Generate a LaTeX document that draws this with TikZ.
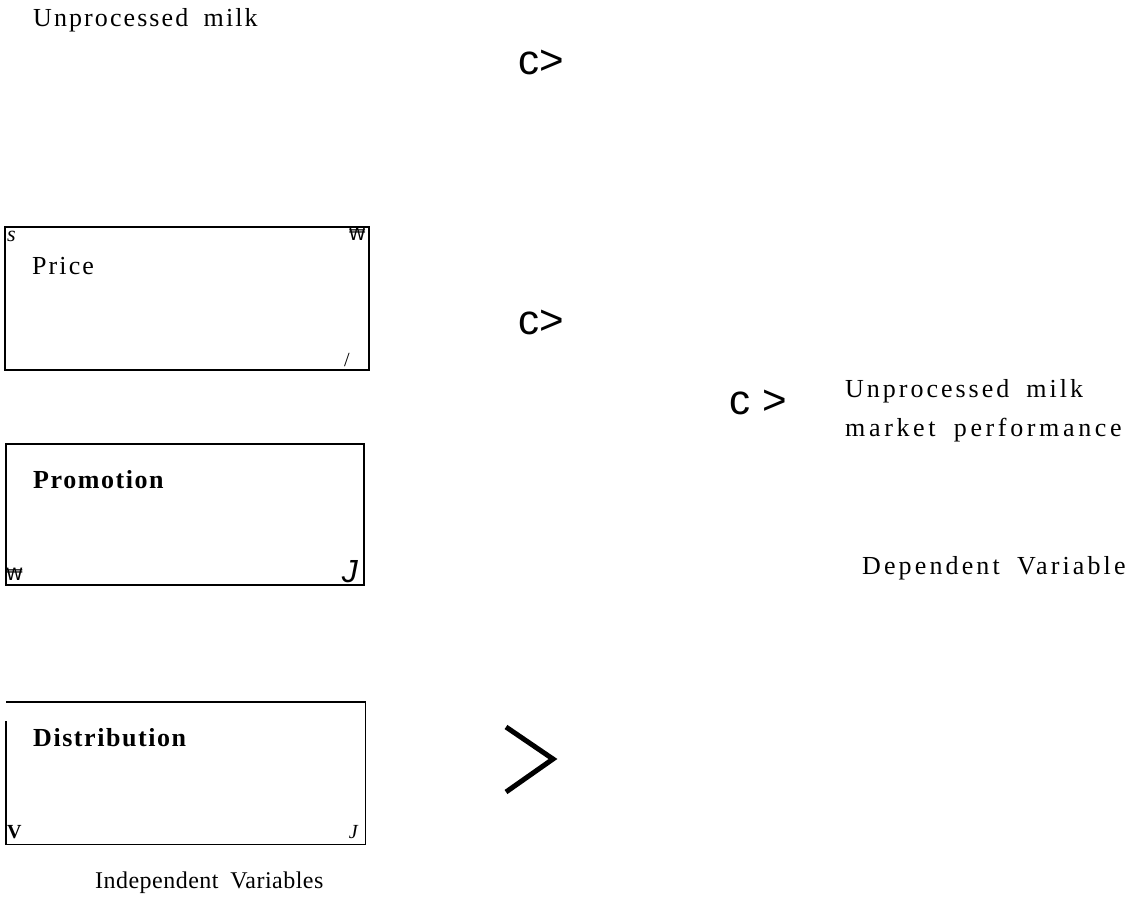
\documentclass[tikz,border=0pt]{standalone}
\usepackage{fontspec}
\setmainfont{Liberation Serif}
\newfontfamily\spacedserif[LetterSpace=8,WordSpace=1.8]{Liberation Serif}
\newfontfamily\symsans{Liberation Sans}
\newfontfamily\wonfont{DejaVu Sans}

\begin{document}
\begin{tikzpicture}[x=1pt, y=-1pt]
    \useasboundingbox (0,0) rectangle (1129,904);

    \tikzset{
        vartext/.style = {anchor=base west, inner sep=0pt, font=\fontsize{26}{30}\selectfont\spacedserif\addfontfeature{LetterSpace=#1}},
        vartext/.default = 8,
        boldtext/.style = {vartext=6, font=\fontsize{26}{30}\selectfont\spacedserif\addfontfeature{LetterSpace=6}\bfseries},
        varbox/.style = {rectangle, anchor=north west, inner sep=0pt, line width=1.5pt, minimum width=358pt, minimum height=141pt},
        pointer/.style = {inner sep=0pt, font=\fontsize{42}{42}\selectfont\symsans},
        cornermark/.style = {inner sep=0pt, font=\fontsize{17}{17}\selectfont}
    }

    % title and dependent side
    \node (milk) [vartext] at (33,27) {Unprocessed milk};
    \node (perfa) [vartext=11.5] at (845,397) {Unprocessed milk};
    \node (perfb) [vartext=14] at (845,436) {market performance};
    \node (dep) [vartext=12] at (862,574) {Dependent Variable};

    % boxes of the independent variables
    \node (pricebox) [varbox, draw, minimum width=364pt, minimum height=143pt] at (4,226) {};
    \node (promobox) [varbox, draw] at (5,443) {};
    \node (distbox) [varbox] at (6,702) {};
    \draw [line width=1.5pt] ([yshift=-19pt]distbox.north west) -- (distbox.south west) -- (distbox.south east) -- (distbox.north east) -- (distbox.north west);

    \node (price) [vartext] at (32,274) {Price};
    \node (promo) [boldtext] at (33,488) {Promotion};
    \node (dist) [boldtext] at (33,746) {Distribution};
    \node (indep) [vartext=2, font=\fontsize{24}{28}\selectfont\spacedserif\addfontfeature{LetterSpace=2}] at (95,888) {Independent Variables};

    % stray marks in the box corners
    \node (ps) [cornermark, anchor=base west, font=\fontsize{22}{22}\selectfont\itshape] at (7,241) {s};
    \node (pw) [cornermark, anchor=north east, font=\fontsize{17}{17}\selectfont\wonfont] at (366,228) {₩};
    \node (pslash) [cornermark, anchor=base east, font=\fontsize{20}{20}\selectfont] at (350,366) {/};
    \node (mw) [cornermark, anchor=base west, font=\fontsize{17}{17}\selectfont\wonfont] at (6,580) {₩\rlap{\raisebox{-3pt}{\fontsize{6}{6}\selectfont\_}}};
    \node (mj) [cornermark, anchor=base east, font=\fontsize{32}{32}\selectfont\symsans\itshape] at (358,582) {J};
    \node (dv) [cornermark, anchor=base west, font=\fontsize{20}{20}\selectfont\bfseries] at (7,838) {V};
    \node (dj) [cornermark, anchor=base east, font=\fontsize{20}{20}\selectfont\itshape] at (358,838) {J};

    % pointers
    \node (pta) [pointer] at (541,62) {c>};
    \node (ptb) [pointer] at (541,322) {c>};
    \node (ptc) [pointer] at (758,402) {c >};
    \coordinate (ptdtop) at (506,727);
    \coordinate (ptdtip) at (553,759);
    \coordinate (ptdbot) at (506,792);
    \draw [line width=5pt] (ptdtop) -- (ptdtip) -- (ptdbot);
\end{tikzpicture}
\end{document}
